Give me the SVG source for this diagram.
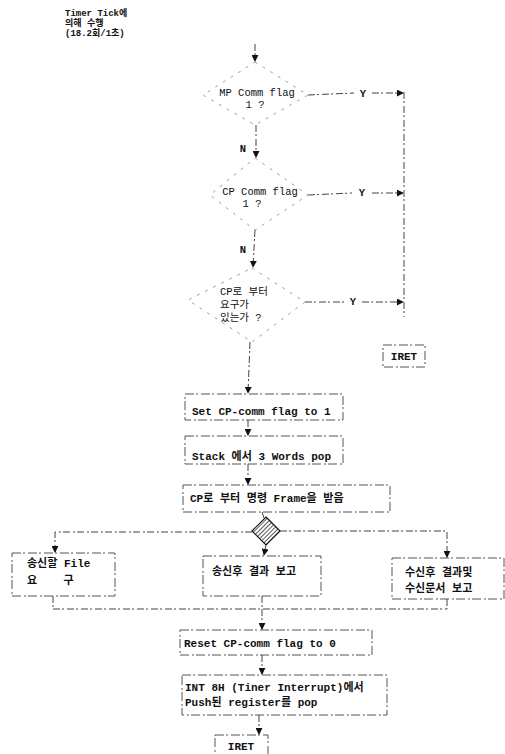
<svg xmlns="http://www.w3.org/2000/svg" width="505" height="754" viewBox="0 0 505 754">
<defs>
<marker id="ah" viewBox="0 0 8 8" refX="7" refY="4" markerWidth="7" markerHeight="7" orient="auto" markerUnits="userSpaceOnUse">
<path d="M0,0 L8,4 L0,8 z" fill="#111"/>
</marker>
<pattern id="hatch" width="3" height="3" patternUnits="userSpaceOnUse" patternTransform="rotate(45)">
<rect width="3" height="3" fill="#fff"/>
<line x1="0" y1="0" x2="0" y2="3" stroke="#111" stroke-width="1.4"/>
</pattern>
<style>
.t{font-family:"Liberation Mono","Noto Sans CJK KR",monospace;font-size:11px;font-weight:bold;fill:#111}
.s{font-family:"Liberation Mono","Noto Sans CJK KR",monospace;font-size:9px;font-weight:bold;fill:#111}
.d{font-family:"Liberation Mono","Noto Sans CJK KR",monospace;font-size:10.5px;fill:#111}
.box{fill:none;stroke:#555;stroke-width:1;stroke-dasharray:9 2 2 3}
.dia{fill:none;stroke:#888;stroke-width:0.8;stroke-dasharray:3 6}
.c{fill:none;stroke:#444;stroke-width:1;stroke-dasharray:7 2 2 3}
.ca{fill:none;stroke:#444;stroke-width:1;stroke-dasharray:7 2 2 3;marker-end:url(#ah)}
</style>
</defs>
<rect width="505" height="754" fill="#fff"/>

<g id="note">
<text class="s" x="65" y="16">Timer Tick에</text>
<text class="s" x="65" y="26">의해 수행</text>
<text class="s" x="65" y="36">(18.2회/1초)</text>
</g>

<g id="d1">
<polygon class="dia" points="255,62 308,95 255,125 203,95"/>
<text class="d" x="257" y="96" text-anchor="middle">MP Comm flag</text>
<text class="d" x="255" y="108" text-anchor="middle">1 ?</text>
</g>
<g id="d2">
<polygon class="dia" points="255,158 308,195 255,230 210,195"/>
<text class="d" x="260" y="195" text-anchor="middle">CP Comm flag</text>
<text class="d" x="252" y="207" text-anchor="middle">1 ?</text>
</g>
<g id="d3">
<polygon class="dia" points="252,268 305,302 252,342 188,300"/>
<text class="d" x="220" y="295">CP로 부터</text>
<text class="d" x="220" y="308">요구가</text>
<text class="d" x="220" y="321">있는가 ?</text>
</g>
<g id="iret1">
<rect class="box" x="383" y="345" width="42" height="22"/>
<text class="t" x="404" y="360" text-anchor="middle">IRET</text>
</g>

<g id="b1">
<rect class="box" x="185" y="394" width="158" height="26"/>
<text class="t" x="192" y="415">Set CP-comm flag to 1</text>
</g>
<g id="b2">
<rect class="box" x="185" y="436" width="158" height="28"/>
<text class="t" x="192" y="460">Stack 에서 3 Words pop</text>
</g>
<g id="b3">
<rect class="box" x="183" y="485" width="207" height="27"/>
<text class="t" x="190" y="502">CP로 부터 명령 Frame을 받음</text>
</g>
<g id="d4">
<polygon points="266,517 280,531 266,545 252,531" fill="url(#hatch)" stroke="#111" stroke-width="1.2"/>
</g>
<g id="b4">
<rect class="box" x="12" y="553" width="103" height="43"/>
<text class="t" x="27" y="567">송신할 File</text>
<text class="t" x="27" y="584" xml:space="preserve">요    구</text>
</g>
<g id="b5">
<rect class="box" x="203" y="556" width="118" height="40"/>
<text class="t" x="212" y="575">송신후 결과 보고</text>
</g>
<g id="b6">
<rect class="box" x="392" y="558" width="112" height="41"/>
<text class="t" x="405" y="576">수신후 결과및</text>
<text class="t" x="405" y="592">수신문서 보고</text>
</g>
<g id="b7">
<rect class="box" x="180" y="630" width="192" height="25"/>
<text class="t" x="184" y="647">Reset CP-comm flag to 0</text>
</g>
<g id="b8">
<rect class="box" x="182" y="675" width="205" height="40"/>
<text class="t" x="185" y="691">INT 8H (Tiner Interrupt)에서</text>
<text class="t" x="185" y="706">Push된 register를 pop</text>
</g>
<g id="iret2">
<rect class="box" x="215" y="735" width="53" height="25"/>
<text class="t" x="241" y="750" text-anchor="middle">IRET</text>
</g>

<g id="connectors">
<line class="ca" x1="255" y1="44" x2="255" y2="61"/>
<line class="ca" x1="256" y1="125" x2="256" y2="157"/>
<text class="d" x="243" y="152" text-anchor="middle" font-weight="bold">N</text>
<line class="ca" x1="255" y1="230" x2="253" y2="267"/>
<text class="d" x="243" y="253" text-anchor="middle" font-weight="bold">N</text>
<line class="c" x1="308" y1="95" x2="354" y2="93"/>
<line class="ca" x1="372" y1="93" x2="403" y2="93"/>
<text class="d" x="363" y="97" text-anchor="middle" font-weight="bold">Y</text>
<line class="c" x1="308" y1="195" x2="352" y2="193"/>
<line class="ca" x1="372" y1="193" x2="403" y2="193"/>
<text class="d" x="362" y="196" text-anchor="middle" font-weight="bold">Y</text>
<line class="c" x1="305" y1="302" x2="345" y2="302"/>
<line class="ca" x1="362" y1="302" x2="403" y2="302"/>
<text class="d" x="353" y="305" text-anchor="middle" font-weight="bold">Y</text>
<line class="c" x1="404" y1="92" x2="404" y2="317"/>
<line class="ca" x1="250" y1="342" x2="248" y2="393"/>
<line class="ca" x1="248" y1="420" x2="248" y2="435"/>
<line class="ca" x1="248" y1="464" x2="248" y2="484"/>
<line class="c" x1="262" y1="512" x2="264" y2="518"/>
<polyline class="ca" points="252,532 55,532 55,552"/>
<line class="ca" x1="266" y1="545" x2="264" y2="555"/>
<polyline class="ca" points="280,531 447,531 447,557"/>
<line class="c" x1="53" y1="596" x2="53" y2="609"/>
<line class="c" x1="262" y1="596" x2="262" y2="609"/>
<line class="c" x1="447" y1="599" x2="447" y2="609"/>
<line class="c" x1="53" y1="609" x2="447" y2="609"/>
<line class="ca" x1="262" y1="609" x2="262" y2="629"/>
<line class="ca" x1="262" y1="655" x2="262" y2="674"/>
<line class="ca" x1="259" y1="715" x2="259" y2="734"/>
</g>
</svg>
